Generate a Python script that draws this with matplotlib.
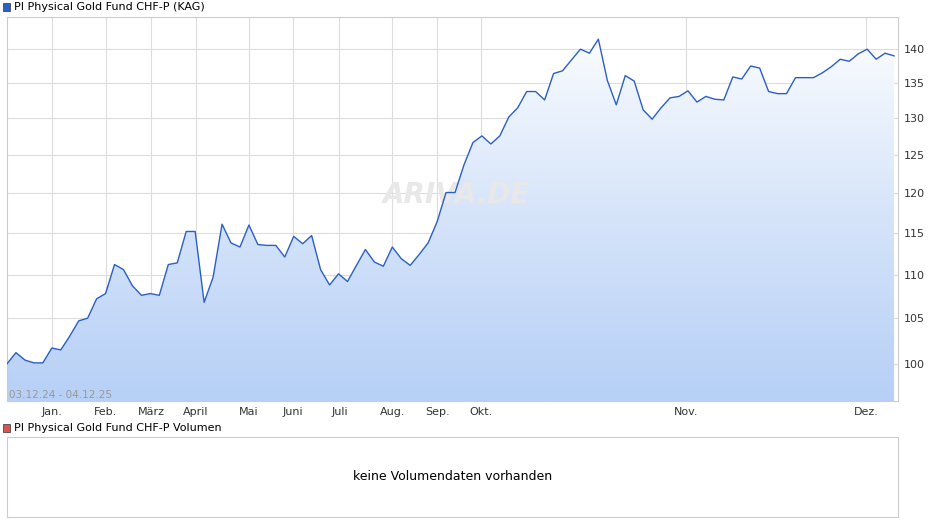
import matplotlib.pyplot as plt
import numpy as np
from matplotlib.patches import Polygon, Rectangle
from matplotlib.colors import LinearSegmentedColormap
from matplotlib.ticker import NullLocator, FixedLocator, ScalarFormatter

prices = [100.0, 101.2, 100.4, 100.1, 100.1, 101.7, 101.5, 103.0, 104.7, 105.0,
          107.2, 107.8, 111.2, 110.6, 108.7, 107.6, 107.8, 107.6, 111.2, 111.4,
          115.2, 115.2, 106.8, 109.7, 116.1, 113.8, 113.3, 116.0, 113.6, 113.5,
          113.5, 112.1, 114.6, 113.7, 114.7, 110.6, 108.8, 110.1, 109.2, 111.1,
          113.0, 111.5, 111.0, 113.3, 111.9, 111.1, 112.4, 113.8, 116.4, 120.1,
          120.1, 123.7, 126.7, 127.6, 126.5, 127.6, 130.2, 131.5, 133.8, 133.8,
          132.6, 136.4, 136.8, 138.4, 140.0, 139.4, 141.5, 135.4, 131.9, 136.1,
          135.3, 131.2, 129.9, 131.5, 132.9, 133.1, 133.9, 132.3, 133.1, 132.7,
          132.6, 135.9, 135.6, 137.5, 137.2, 133.8, 133.5, 133.5, 135.8, 135.8,
          135.8, 136.5, 137.4, 138.5, 138.2, 139.3, 140.0, 138.5, 139.4, 139.0]
month_labels = ["Jan.", "Feb.", "März", "April", "Mai", "Juni", "Juli", "Aug.",
                "Sep.", "Okt.", "Nov.", "Dez."]
month_pos = [5.05, 11.0, 16.1, 21.1, 27.0, 31.9, 37.1, 43.0, 48.0, 52.9, 75.8, 95.9]
y_ticks = [100, 105, 110, 115, 120, 125, 130, 135, 140]

x = np.arange(len(prices))
W, H = 940, 526
fig = plt.figure(figsize=(W / 100, H / 100), dpi=100)
ax = fig.add_axes([7 / W, 125 / H, 891 / W, 384 / H])
ymin, ymax = 96.1, 144.9
ax.set_yscale("log")
ax.set_xlim(0, 99.44)
ax.set_ylim(ymin, ymax)

grad = np.linspace(0, 1, 256).reshape(-1, 1)
cmap = LinearSegmentedColormap.from_list("g", ["#b7d0f6", "#ffffff"])
img = ax.imshow(grad, cmap=cmap, aspect="auto", origin="lower",
                extent=[0, len(prices), ymin, ymax], zorder=1)
verts = np.vstack([np.column_stack([x, prices]), [[x[-1], ymin], [0, ymin]]])
poly = Polygon(verts, transform=ax.transData, facecolor="none", edgecolor="none")
ax.add_patch(poly)
img.set_clip_path(poly)
ax.plot(x, prices, color="#2b5fc8", lw=1, zorder=3)
ax.set_ylim(ymin, ymax)

ax.yaxis.set_major_locator(FixedLocator(y_ticks))
ax.yaxis.set_minor_locator(NullLocator())
ax.yaxis.set_major_formatter(ScalarFormatter())
ax.set_xticks(month_pos)
ax.set_xticklabels(month_labels)
ax.yaxis.tick_right()
ax.tick_params(axis="both", length=0, labelsize=8, colors="#333333", pad=4)
ax.grid(True, color="#dddddd", lw=0.8, zorder=0)
ax.set_axisbelow(True)
for s in ax.spines.values():
    s.set_color("#cccccc")
ax.text(0.002, 0.003, "03.12.24 - 04.12.25", transform=ax.transAxes,
        fontsize=7.5, color="#999999", va="bottom")
ax.text(0.505, 0.515, "ARIVA.DE", transform=ax.transAxes, fontsize=20,
        color="#e8e8e8", fontweight="bold", style="italic", ha="center", zorder=2)

fig.patches.append(Rectangle((3 / W, 515 / H), 7 / W, 8 / H, transform=fig.transFigure,
                             facecolor="#2b5fc8", edgecolor="#333333", lw=0.5))
fig.text(14 / W, 519 / H, "PI Physical Gold Fund CHF-P (KAG)", fontsize=8, va="center")
fig.patches.append(Rectangle((3 / W, 94 / H), 7 / W, 8 / H, transform=fig.transFigure,
                             facecolor="#d9534f", edgecolor="#333333", lw=0.5))
fig.text(14 / W, 98 / H, "PI Physical Gold Fund CHF-P Volumen", fontsize=8, va="center")

ax2 = fig.add_axes([7 / W, 9 / H, 891 / W, 80 / H])
ax2.set_xticks([])
ax2.set_yticks([])
for s in ax2.spines.values():
    s.set_color("#cccccc")
ax2.text(0.5, 0.5, "keine Volumendaten vorhanden", transform=ax2.transAxes,
         ha="center", va="center", fontsize=9)

fig.savefig("out.png", dpi=100)
